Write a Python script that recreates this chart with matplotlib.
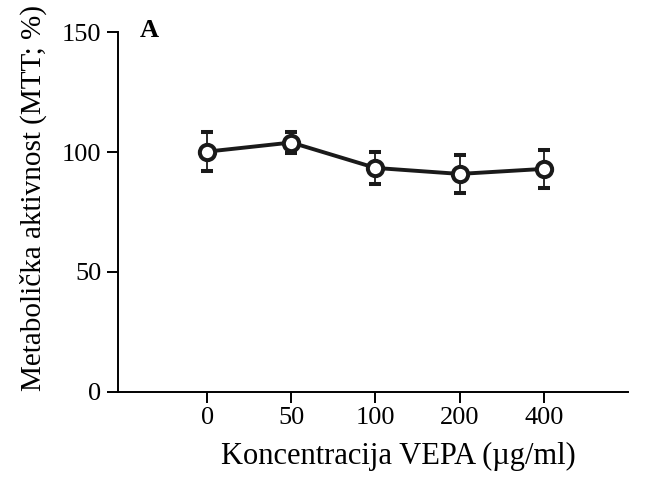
import matplotlib
matplotlib.use("Agg")
import matplotlib.pyplot as plt

# font
plt.rcParams["font.family"] = ["Liberation Serif", "DejaVu Serif"]

# data
concentrations = ["0", "50", "100", "200", "400"]
activity = [100.2, 104.0, 93.4, 90.9, 93.0]
error = [8.0, 4.3, 6.5, 8.1, 7.9]
y_ticks = [0, 50, 100, 150]

fig = plt.figure(figsize=(6.52, 4.96), dpi=100)
ax = fig.add_axes([0.181, 0.21, 0.782, 0.725])

x = list(range(len(concentrations)))
ax.errorbar(x, activity, yerr=error, color="#1a1a1a", linewidth=2.8,
            marker="o", markersize=11, markerfacecolor="white",
            markeredgewidth=2.9, markeredgecolor="#1a1a1a",
            elinewidth=1.3, capsize=4, capthick=1.3, zorder=3)

ax.set_xlim(-1.06, 5)
ax.set_ylim(0, 150)
ax.set_xticks(x)
ax.set_xticklabels(concentrations)
ax.set_yticks(y_ticks)

for side in ["top", "right"]:
    ax.spines[side].set_visible(False)
for side in ["left", "bottom"]:
    ax.spines[side].set_linewidth(1.4)

ax.tick_params(axis="both", labelsize=19, length=8, width=1.4, direction="out")
ax.tick_params(axis="x", pad=3)
ax.tick_params(axis="y", pad=4)
ax.set_xlabel("Koncentracija VEPA (µg/ml)", fontsize=22)
ax.set_ylabel("Metabolička aktivnost (MTT; %)", fontsize=21)
ax.xaxis.set_label_coords(0.55, -0.14)
ax.yaxis.set_label_coords(-0.14, 0.54)

fig.text(0.215, 0.925, "A", fontsize=19, fontweight="bold")

plt.savefig("out.png", dpi=100)
